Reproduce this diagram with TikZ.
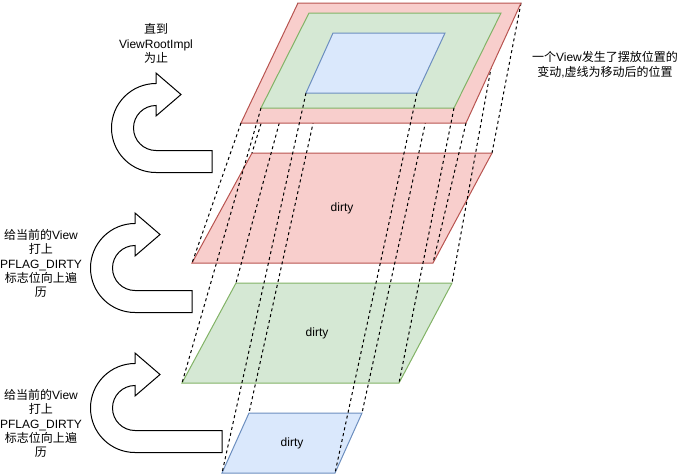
\documentclass[tikz,border=0pt]{standalone}
\usepackage{fontspec}
\setmainfont{Liberation Sans}
\newfontfamily\cjk{Noto Sans CJK SC}
\definecolor{redfill}{HTML}{F8CECC}
\definecolor{redline}{HTML}{B85450}
\definecolor{greenfill}{HTML}{D5E8D4}
\definecolor{greenline}{HTML}{82B366}
\definecolor{bluefill}{HTML}{DAE8FC}
\definecolor{blueline}{HTML}{6C8EBF}
\tikzset{
  redplane/.style={fill=redfill, draw=redline, line width=1pt},
  greenplane/.style={fill=greenfill, draw=greenline, line width=1pt},
  blueplane/.style={fill=bluefill, draw=blueline, line width=1pt},
  guide/.style={draw=black, line width=1pt, dash pattern=on 3pt off 3pt},
  uturnline/.style={draw=black, fill=white, line width=1pt},
  lbl/.style={font=\fontsize{12}{14.4}\selectfont, align=center, inner sep=0pt},
  pics/uturn/.style={code={
    \path[uturnline] (0,-22.5) arc[start angle=-90,end angle=-270,radius=22.5]
      -- (#1,22.5) -- (#1,44.5) -- (0,44.5)
      arc[start angle=90,end angle=270,radius=44.5]
      -- (0,-55) -- (25,-33.5) -- (0,-12) -- cycle;
  }}
}
\begin{document}
\begin{tikzpicture}[x=1pt,y=-1pt]
\useasboundingbox (0,0) rectangle (682,475);
% top figure corners
\coordinate (rTL) at (298,3);   \coordinate (rTR) at (521,3);
\coordinate (rBR) at (466,123); \coordinate (rBL) at (241,123);
\coordinate (gTL) at (309,13);  \coordinate (gTR) at (501,13);
\coordinate (gBR) at (454,108); \coordinate (gBL) at (261,108);
\coordinate (bTL) at (333,33);  \coordinate (bTR) at (445,33);
\coordinate (bBR) at (417,93);  \coordinate (bBL) at (306,93);
% dirty layers corners
\coordinate (rdTL) at (252,153); \coordinate (rdTR) at (492,153);
\coordinate (rdBR) at (433,263); \coordinate (rdBL) at (192,263);
\coordinate (gdTL) at (236,283); \coordinate (gdTR) at (452,283);
\coordinate (gdBR) at (399,383); \coordinate (gdBL) at (182,383);
\coordinate (bdTL) at (249,413); \coordinate (bdTR) at (362,413);
\coordinate (bdBR) at (335,473); \coordinate (bdBL) at (222,473);
% dirty layers
\path[redplane] (rdTL) -- (rdTR) -- (rdBR) -- (rdBL) -- cycle;
\path[greenplane] (gdTL) -- (gdTR) -- (gdBR) -- (gdBL) -- cycle;
\path[blueplane] (bdTL) -- (bdTR) -- (bdBR) -- (bdBL) -- cycle;
% hidden guides from top corners
\draw[guide] (rTL) -- (rdTL);
\draw[guide] (rTR) -- (rdTR);
\draw[guide] (gTL) -- (gdTL);
\draw[guide] (gTR) -- (gdTR);
\draw[guide] (bTL) -- (bdTL);
\draw[guide] (bTR) -- (bdTR);
% top figure
\path[redplane] (rTL) -- (rTR) -- (rBR) -- (rBL) -- cycle;
\path[greenplane] (gTL) -- (gTR) -- (gBR) -- (gBL) -- cycle;
\path[blueplane] (bTL) -- (bTR) -- (bBR) -- (bBL) -- cycle;
% guides from bottom corners
\draw[guide] (rBL) -- (rdBL);
\draw[guide] (rBR) -- (rdBR);
\draw[guide] (gBL) -- (gdBL);
\draw[guide] (gBR) -- (gdBR);
\draw[guide] (bBL) -- (bdBL);
\draw[guide] (bBR) -- (bdBR);
% labels in layers
\node[lbl] (dirtyR) at (342,208) {dirty};
\node[lbl] (dirtyG) at (317,333) {dirty};
\node[lbl] (dirtyB) at (292,443) {dirty};
% u-turn arrows
\pic (turnTop) at (156,128) {uturn=56};
\pic (turnMid) at (135,268) {uturn=57};
\pic (turnBot) at (135,408) {uturn=87};
% texts
\node[lbl] (txtTop) at (156,43.5) {{\cjk 直到}\\ViewRootImpl\\{\cjk 为止}};
\node[lbl] (txtMid) at (41,263.5) {{\cjk 给当前的}View\\{\cjk 打上}\\PFLAG\_DIRTY\\{\cjk 标志位向上遍}\\{\cjk 历}};
\node[lbl] (txtBot) at (41,423.5) {{\cjk 给当前的}View\\{\cjk 打上}\\PFLAG\_DIRTY\\{\cjk 标志位向上遍}\\{\cjk 历}};
\node[lbl] (txtRight) at (605,64.5) {{\cjk 一个}View{\cjk 发生了摆放位置的}\\{\cjk 变动},{\cjk 虚线为移动后的位置}};
\end{tikzpicture}
\end{document}
